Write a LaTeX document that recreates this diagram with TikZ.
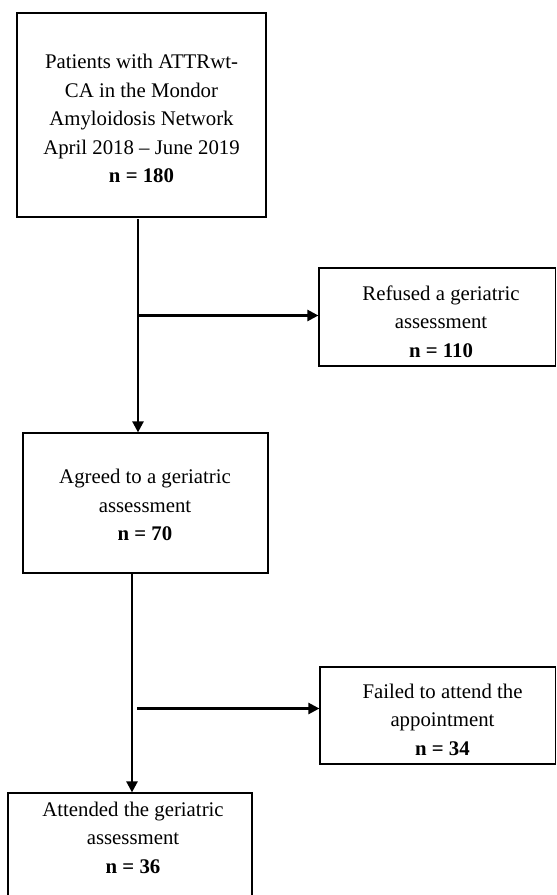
\documentclass[tikz,border=0pt]{standalone}
\usepackage{fontspec}
\setmainfont{Liberation Serif}
\usetikzlibrary{arrows.meta}
\tikzset{
  flowbox/.style={draw=black, line width=1.2pt, fill=white, inner sep=0pt},
  boxtext/.style={align=center, inner sep=0pt, font=\fontsize{20.8pt}{28.5pt}\selectfont},
  conn/.style={draw=black, line width=2.4pt},
  arr/.style={conn, -{Triangle[length=11pt,width=11pt]}}
}
\begin{document}
\begin{tikzpicture}[x=1pt,y=-1pt]
\useasboundingbox[fill=white] (0,0) rectangle (557,895);
% boxes
\node[flowbox, minimum width=249pt, minimum height=204pt] (b1) at (141.5,115) {};
\node[flowbox, minimum width=245pt, minimum height=140pt] (b2) at (145.5,503) {};
\node[flowbox, minimum width=244pt, minimum height=104pt] (b3) at (130,845) {};
\node[flowbox, minimum width=236.5pt, minimum height=98pt] (br) at (437.25,317) {};
\node[flowbox, minimum width=235.5pt, minimum height=97pt] (bf) at (437.75,715.5) {};
% texts
\node[boxtext] (t1) at (141.5,118.5) {Patients with ATTRwt-\\CA in the Mondor\\Amyloidosis Network\\April 2018 -- June 2019\\\textbf{n = 180}};
\node[boxtext] (t2) at (145,505) {Agreed to a geriatric\\assessment\\\textbf{n = 70}};
\node[boxtext] (t3) at (133,837.5) {Attended the geriatric\\assessment\\\textbf{n = 36}};
\node[boxtext] (tr) at (441,321.5) {Refused a geriatric\\assessment\\\textbf{n = 110}};
\node[boxtext] (tf) at (442.5,719.5) {Failed to attend the\\appointment\\\textbf{n = 34}};
% connectors
\coordinate (s1) at (138,219);
\coordinate (j1) at (138,315.5);
\coordinate (s2) at (132,574);
\coordinate (j2) at (137,708.5);
\draw[arr] (s1) -- (s1 |- b2.north);
\draw[arr] (j1) -- (j1 -| br.west);
\draw[arr] (s2) -- (s2 |- b3.north);
\draw[arr] (j2) -- (j2 -| bf.west);
\end{tikzpicture}
\end{document}
